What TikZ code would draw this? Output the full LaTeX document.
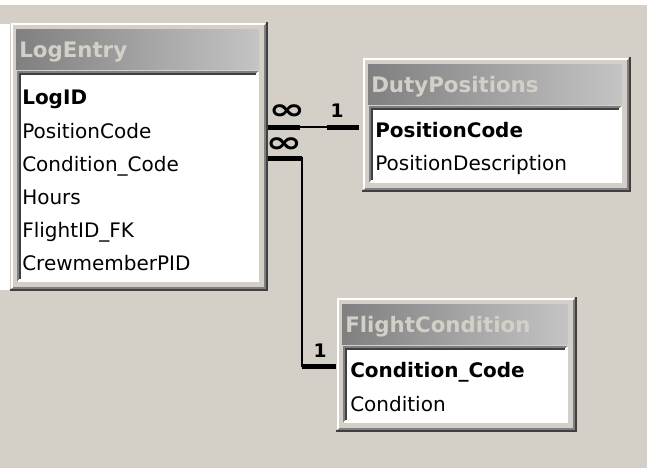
\documentclass[tikz,border=0pt]{standalone}
\usepackage{fontspec}
\setmainfont{DejaVu Sans}
\usepackage{graphicx}
\usepackage{tikz}
\usetikzlibrary{positioning, calc}
\definecolor{WinFace}{HTML}{D4D0C8}
\definecolor{WinShadow}{HTML}{808080}
\definecolor{WinDark}{HTML}{404040}
\definecolor{TitleLeft}{HTML}{808080}
\definecolor{TitleRight}{HTML}{C4C4C4}
\definecolor{TitleText}{HTML}{D4D0C8}
\tikzset{
  tablewin/.style={rectangle, fill=WinFace, inner sep=0pt, outer sep=0pt, anchor=north west},
  tabletitle/.style={anchor=west, inner sep=0pt, text=TitleText, text height=11.5pt, text depth=0pt, font=\fontsize{16}{19}\selectfont\bfseries},
  fieldrow/.style={anchor=west, inner sep=0pt, text height=11pt, text depth=0pt, font=\fontsize{15}{18}\selectfont},
  keyrow/.style={fieldrow, font=\fontsize{15}{18}\selectfont\bfseries},
  relline/.style={black, line width=1.2pt},
  relend/.style={black, line width=3.75pt},
  manylabel/.style={inner sep=0pt, font=\fontsize{22}{22}\selectfont\bfseries},
  onelabel/.style={inner sep=0pt, font=\fontsize{14}{14}\selectfont\bfseries}
}

\begin{document}
\begin{tikzpicture}[x=0.75pt, y=-0.75pt]
  \useasboundingbox (0,0) rectangle (647,468);
  \fill[WinFace] (0,0) rectangle (647,468);
  \fill[white] (0,0) rectangle (647,5);
  \fill[white] (0,24) rectangle (10,290);
  % table windows
  \foreach \tname/\ttitle/\xa/\ya/\xb/\yb in {logentry/LogEntry/10/22/268/291, dutypos/DutyPositions/362/57/631/192, flightcond/FlightCondition/336/297/577/432} {
    \node[tablewin, minimum width=(\xb-\xa)*0.75pt, minimum height=(\yb-\ya)*0.75pt] (\tname) at (\xa,\ya) {};
    \draw[WinDark, line width=1.5pt] (\xa,\yb-1) -- (\xb-1,\yb-1) -- (\xb-1,\ya);
    \draw[WinShadow, line width=1.5pt] (\xa+2,\yb-3) -- (\xb-3,\yb-3) -- (\xb-3,\ya+2);
    \draw[white, line width=1.5pt] (\xa+2,\yb-3) -- (\xa+2,\ya+2) -- (\xb-3,\ya+2);
    \shade[left color=TitleLeft, right color=TitleRight] (\xa+6,\ya+7) rectangle (\xb-9,\ya+47);
    \node[tabletitle] (\tname-title) at (\xa+9,\ya+28) {\ttitle};
    \fill[white] (\xa+8,\ya+50) rectangle (\xb-10,\yb-10);
    \draw[WinShadow, line width=1.5pt] (\xa+8,\yb-10) -- (\xa+8,\ya+50) -- (\xb-10,\ya+50);
    \draw[WinDark, line width=1.5pt] (\xa+10,\yb-12) -- (\xa+10,\ya+52) -- (\xb-12,\ya+52);
    \draw[white, line width=1.5pt] (\xa+8,\yb-10) -- (\xb-10,\yb-10) -- (\xb-10,\ya+50);
  }
  % fields
  \node[keyrow] (le-logid) at (22,97.5) {LogID};
  \node[fieldrow] (le-poscode) at (22,131) {PositionCode};
  \node[fieldrow] (le-condcode) at (22,164) {Condition\_Code};
  \node[fieldrow] (le-hours) at (22,197) {Hours};
  \node[fieldrow] (le-flightid) at (22,230) {FlightID\_FK};
  \node[fieldrow] (le-crewpid) at (22,263.5) {CrewmemberPID};
  \node[keyrow] (dp-poscode) at (375,130) {PositionCode};
  \node[fieldrow] (dp-posdesc) at (375,163) {PositionDescription};
  \node[keyrow] (fc-condcode) at (350,370) {Condition\_Code};
  \node[fieldrow] (fc-cond) at (350,404) {Condition};
  % relationships
  \coordinate (pos-many) at ($(logentry.east |- le-poscode)+(0,-4)$);
  \coordinate (pos-one) at ($(dutypos.west |- pos-many)+(-3,0)$);
  \draw[relline] (pos-many) -- (pos-one);
  \draw[relend] (pos-many) -- ++(32,0);
  \draw[relend] (pos-one) -- ++(-32,0);
  \node[manylabel] (pos-inf) at (287,112) {\scalebox{1.5}[1]{∞}};
  \node[onelabel] (pos-1) at (337,111) {1};
  \coordinate (cond-many) at ($(logentry.east |- le-condcode)+(0,-6)$);
  \coordinate (cond-one) at ($(flightcond.west |- fc-condcode)+(0,-4)$);
  \draw[relline, line width=1.5pt] (cond-many) -- ++(34,0) |- (cond-one);
  \draw[relend] (cond-many) -- ++(34,0);
  \draw[relend] (cond-one) -- ++(-34,0);
  \node[manylabel] (cond-inf) at (284,145) {\scalebox{1.5}[1]{∞}};
  \node[onelabel] (cond-1) at (320,351) {1};
\end{tikzpicture}
\end{document}
